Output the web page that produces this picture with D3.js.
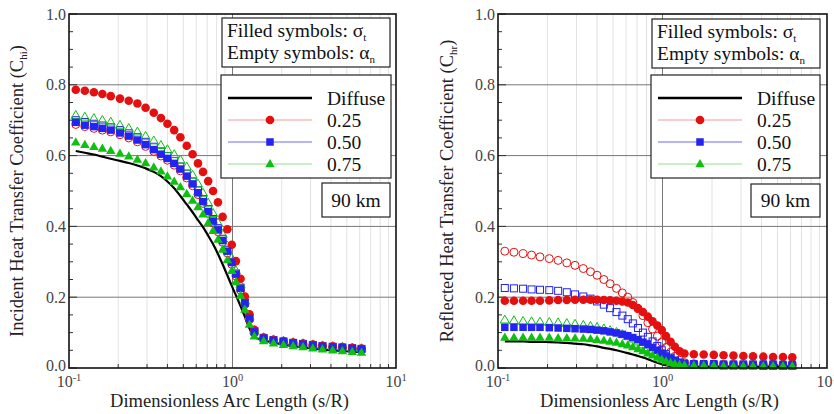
<!DOCTYPE html>
<html>
<head>
<meta charset="utf-8">
<script src="https://cdn.jsdelivr.net/npm/d3@7"></script>
<style>
  body { margin: 0; background: #fff; }
  svg { display: block; font-family: "Liberation Serif", "DejaVu Serif", serif; }
  .tick-label { fill: #444; font-size: 16px; }
  .axis-title { fill: #222; font-size: 18.5px; }
  .leg-text { fill: #111; font-size: 19.5px; }
</style>
</head>
<body>
<div id="chart"></div>
<script>
// arc length positions (s/R) shared by both panels
const sArc = [0.11, 0.125, 0.142, 0.16, 0.18, 0.205, 0.232, 0.262, 0.294, 0.33,
  0.365, 0.40, 0.44, 0.48, 0.525, 0.57, 0.615, 0.66, 0.71, 0.76,
  0.815, 0.87, 0.93, 0.99, 1.05, 1.12, 1.19, 1.27, 1.36, 1.55,
  1.78, 2.05, 2.35, 2.7, 3.1, 3.55, 4.1, 4.7, 5.4, 6.15];

// incident coefficient (left panel)
const incDiffuse = [.613, .608, .603, .597, .591, .585, .579, .572, .564, .554,
  .542, .527, .508, .486, .462, .440, .418, .398, .374, .350,
  .322, .293, .262, .232, .205, .175, .145, .112, .088, .078,
  .072, .066, .062, .058, .055, .052, .050, .048, .046, .045];
const incFilled25 = [.786, .783, .779, .774, .768, .761, .755, .747, .735, .721,
  .706, .690, .672, .652, .628, .604, .578, .554, .528, .500,
  .468, .427, .392, .348, .302, .252, .202, .152, .108, .086,
  .080, .076, .072, .069, .066, .063, .061, .059, .057, .055];
const incFilled50 = [.694, .686, .682, .677, .672, .664, .655, .644, .631, .617,
  .604, .592, .578, .562, .542, .520, .495, .470, .442, .415,
  .390, .360, .330, .298, .265, .225, .183, .140, .102, .084,
  .078, .074, .070, .067, .064, .061, .059, .057, .055, .053];
const incFilled75 = [.638, .631, .625, .620, .614, .606, .598, .589, .579, .567,
  .556, .542, .527, .511, .492, .473, .455, .434, .410, .388,
  .363, .335, .305, .275, .243, .205, .165, .123, .090, .076,
  .070, .066, .062, .059, .056, .053, .050, .048, .046, .044];
const incEmpty25 = [.688, .682, .677, .672, .667, .659, .650, .639, .626, .612,
  .599, .587, .573, .557, .537, .515, .490, .465, .437, .410,
  .385, .355, .325, .293, .260, .220, .180, .137, .100, .083,
  .077, .073, .069, .066, .063, .060, .058, .056, .054, .052];
const incEmpty50 = [.700, .695, .690, .685, .680, .672, .663, .652, .639, .625,
  .612, .599, .585, .569, .549, .527, .502, .477, .449, .421,
  .395, .365, .334, .300, .267, .227, .185, .142, .104, .085,
  .079, .075, .071, .068, .065, .062, .060, .058, .056, .054];
const incEmpty75 = [.714, .709, .705, .700, .695, .686, .677, .667, .655, .642,
  .629, .617, .603, .588, .568, .545, .520, .494, .466, .437,
  .410, .378, .345, .310, .275, .235, .190, .146, .106, .086,
  .080, .076, .072, .069, .066, .063, .061, .059, .057, .055];

// reflected coefficient (right panel)
const refDiffuse = [.075, .075, .075, .074, .074, .073, .072, .071, .069, .067,
  .064, .061, .057, .054, .050, .046, .042, .038, .034, .030,
  .025, .020, .015, .011, .008, .006, .005, .004, .004, .004,
  .004, .004, .004, .004, .004, .004, .004, .004, .004, .004];
const refFilled25 = [.190, .190, .190, .190, .190, .191, .192, .192, .193, .193,
  .193, .193, .192, .191, .190, .188, .185, .178, .169, .158,
  .145, .132, .120, .107, .090, .074, .060, .047, .041, .039,
  .038, .037, .036, .035, .034, .033, .032, .031, .031, .030];
const refFilled50 = [.115, .115, .115, .115, .115, .114, .113, .112, .111, .110,
  .109, .107, .105, .102, .099, .095, .091, .086, .080, .073,
  .066, .058, .050, .042, .034, .027, .021, .016, .013, .012,
  .012, .012, .011, .011, .011, .011, .011, .011, .010, .010];
const refFilled75 = [.086, .086, .086, .086, .086, .086, .085, .085, .084, .083,
  .082, .080, .078, .075, .072, .068, .064, .059, .054, .048,
  .042, .036, .030, .024, .019, .015, .011, .009, .008, .007,
  .007, .007, .006, .006, .006, .006, .006, .006, .006, .006];
const refEmpty25 = [.330, .327, .323, .319, .314, .309, .304, .297, .290, .281,
  .272, .262, .250, .238, .225, .212, .200, .185, .167, .148,
  .128, .110, .090, .073, .058, .045, .033, .022, .015, .012,
  .011, .010, .010, .010, .009, .009, .009, .009, .008, .008];
const refEmpty50 = [.226, .225, .224, .222, .221, .220, .218, .214, .208, .202,
  .196, .188, .179, .169, .158, .148, .138, .126, .113, .100,
  .088, .075, .062, .050, .039, .029, .021, .015, .011, .009,
  .008, .008, .007, .007, .007, .007, .006, .006, .006, .006];
const refEmpty75 = [.136, .134, .132, .131, .130, .129, .128, .126, .124, .121,
  .118, .115, .111, .106, .101, .095, .089, .082, .074, .066,
  .058, .050, .042, .034, .027, .021, .016, .012, .010, .009,
  .009, .009, .008, .008, .008, .008, .008, .007, .007, .007];

const yTicks = [0, 0.2, 0.4, 0.6, 0.8, 1.0];
const xExponents = [-1, 0, 1];
const legendLabels = ["Diffuse", "0.25", "0.50", "0.75"];

const colors = { red: "#e41010", blue: "#2424f0", green: "#10c010" };
const lineColors = { red: "#f29a9a", blue: "#6a6af5", green: "#8ee08e" };

const W = 834, H = 414;
const svg = d3.select("#chart").append("svg").attr("width", W).attr("height", H);

function marker(g, shape, cx, cy, color, filled) {
  const fill = filled ? color : "none";
  const sw = filled ? 0 : 1;
  if (shape === "circle") {
    g.append("circle").attr("cx", cx).attr("cy", cy).attr("r", filled ? 4.3 : 4)
      .attr("fill", fill).attr("stroke", color).attr("stroke-width", sw);
  } else if (shape === "square") {
    const s = filled ? 7.5 : 7;
    g.append("rect").attr("x", cx - s / 2).attr("y", cy - s / 2).attr("width", s).attr("height", s)
      .attr("fill", fill).attr("stroke", color).attr("stroke-width", sw);
  } else {
    const r = filled ? 5 : 4.8;
    const pts = [[cx, cy - r], [cx + r * 0.95, cy + r * 0.65], [cx - r * 0.95, cy + r * 0.65]];
    g.append("polygon").attr("points", pts.map(p => p.join(",")).join(" "))
      .attr("fill", fill).attr("stroke", color).attr("stroke-width", sw);
  }
}

function drawPanel(p) {
  const x = d3.scaleLog().domain([0.1, 10]).range([p.x0, p.x1]);
  const y = d3.scaleLinear().domain([0, 1]).range([p.y1, p.y0]);
  const g = svg.append("g");

  // minor log grid
  const minors = [];
  [0.1, 1].forEach(dec => { for (let k = 2; k <= 9; k++) minors.push(dec * k); });
  g.selectAll(".minor").data(minors).enter().append("line")
    .attr("x1", d => x(d)).attr("x2", d => x(d))
    .attr("y1", p.y0).attr("y2", p.y1)
    .attr("stroke", "#e2e2e2").attr("stroke-width", 1);

  // major grid
  g.selectAll(".hgrid").data(yTicks.slice(1, -1)).enter().append("line")
    .attr("x1", p.x0).attr("x2", p.x1)
    .attr("y1", d => y(d)).attr("y2", d => y(d))
    .attr("stroke", "#777").attr("stroke-width", 1);
  g.append("line").attr("x1", x(1)).attr("x2", x(1)).attr("y1", p.y0).attr("y2", p.y1)
    .attr("stroke", "#777").attr("stroke-width", 1);

  // tick marks
  const yMinor = d3.range(0, 1.0001, 0.05);
  g.selectAll(".ytk").data(yMinor).enter().append("line")
    .attr("x1", p.x0).attr("x2", (d, i) => p.x0 + (i % 4 === 0 ? 8 : 4))
    .attr("y1", d => y(d)).attr("y2", d => y(d))
    .attr("stroke", "#333").attr("stroke-width", 1);
  g.selectAll(".xtk").data(minors).enter().append("line")
    .attr("x1", d => x(d)).attr("x2", d => x(d))
    .attr("y1", p.y1).attr("y2", p.y1 - 4)
    .attr("stroke", "#333").attr("stroke-width", 1);

  // diffuse line
  const line = d3.line().x((d, i) => x(sArc[i])).y(d => y(d)).curve(d3.curveMonotoneX);
  g.append("path").attr("d", line(p.diffuse))
    .attr("fill", "none").attr("stroke", "#000").attr("stroke-width", 2.2);

  // symbols
  p.series.forEach(s => {
    const sg = g.append("g");
    s.values.forEach((v, i) => marker(sg, s.shape, x(sArc[i]), y(v), colors[s.color], s.filled));
  });

  // frame
  g.append("rect").attr("x", p.x0).attr("y", p.y0)
    .attr("width", p.x1 - p.x0).attr("height", p.y1 - p.y0)
    .attr("fill", "none").attr("stroke", "#111").attr("stroke-width", 1.6);

  // y tick labels
  g.selectAll(".ylab").data(yTicks).enter().append("text")
    .attr("class", "tick-label")
    .attr("x", p.x0 - 3).attr("y", d => y(d)).attr("dy", d => d === 0 ? "0.2em" : "0.35em")
    .attr("text-anchor", "end")
    .text(d3.format(".1f"));

  // x tick labels 10^n
  xExponents.forEach(e => {
    const t = g.append("text").attr("class", "tick-label")
      .attr("x", x(Math.pow(10, e))).attr("y", p.y1 + 19).attr("text-anchor", "middle");
    t.append("tspan").text("10");
    t.append("tspan").attr("dy", -6).attr("font-size", 10.5).text(e);
  });

  // axis titles
  g.append("text").attr("class", "axis-title")
    .attr("x", (p.x0 + p.x1) / 2 - 3).attr("y", p.y1 + 39).attr("text-anchor", "middle")
    .text("Dimensionless Arc Length (s/R)");
  const yt = g.append("text").attr("class", "axis-title")
    .attr("transform", `translate(${p.yTitleX},${(p.y0 + p.y1) / 2}) rotate(-90)`)
    .attr("text-anchor", "middle");
  yt.append("tspan").text(p.yTitle + " (C");
  yt.append("tspan").attr("font-size", 11).attr("dy", 4).text(p.sub);
  yt.append("tspan").attr("dy", -4).text(")");

  // legend box 1
  const b1 = p.box1;
  g.append("rect").attr("x", b1[0]).attr("y", b1[1]).attr("width", b1[2]).attr("height", b1[3])
    .attr("fill", "#fff").attr("stroke", "#222").attr("stroke-width", 1.2);
  const t1 = g.append("text").attr("class", "leg-text").attr("x", b1[0] + 5).attr("y", b1[1] + 19);
  t1.append("tspan").text("Filled symbols: σ");
  t1.append("tspan").attr("font-size", 11).attr("dy", 4).text("t");
  const t2 = g.append("text").attr("class", "leg-text").attr("x", b1[0] + 5).attr("y", b1[1] + 41);
  t2.append("tspan").text("Empty symbols: α");
  t2.append("tspan").attr("font-size", 11).attr("dy", 4).text("n");

  // legend box 2
  const b2 = p.box2;
  g.append("rect").attr("x", b2[0]).attr("y", b2[1]).attr("width", b2[2]).attr("height", b2[3])
    .attr("fill", "#fff").attr("stroke", "#222").attr("stroke-width", 1.2);
  const legItems = [
    { label: legendLabels[0], color: null },
    { label: legendLabels[1], color: "red", shape: "circle" },
    { label: legendLabels[2], color: "blue", shape: "square" },
    { label: legendLabels[3], color: "green", shape: "triangle" }
  ];
  legItems.forEach((it, i) => {
    const ly = b2[1] + 23 + i * 22;
    const lx0 = b2[0] + 7, lx1 = b2[0] + 91;
    g.append("line").attr("x1", lx0).attr("x2", lx1).attr("y1", ly).attr("y2", ly)
      .attr("stroke", it.color ? lineColors[it.color] : "#000")
      .attr("stroke-width", it.color ? 1 : 2.6);
    if (it.color) marker(g, it.shape, (lx0 + lx1) / 2, ly, colors[it.color], true);
    g.append("text").attr("class", "leg-text").attr("x", b2[0] + 106).attr("y", ly).attr("dy", "0.35em")
      .text(it.label);
  });

  // legend box 3
  const b3 = p.box3;
  g.append("rect").attr("x", b3[0]).attr("y", b3[1]).attr("width", b3[2]).attr("height", b3[3])
    .attr("fill", "#fff").attr("stroke", "#222").attr("stroke-width", 1.2);
  g.append("text").attr("class", "leg-text").attr("x", b3[0] + b3[2] / 2).attr("y", b3[1] + b3[3] / 2)
    .attr("dy", "0.35em").attr("text-anchor", "middle").text("90 km");
}

drawPanel({
  x0: 69, x1: 396, y0: 14, y1: 368, yTitleX: 23,
  yTitle: "Incident Heat Transfer Coefficient", sub: "hi",
  box1: [222, 18, 168, 49], box2: [221, 75, 170, 103], box3: [322, 183, 68, 34],
  diffuse: incDiffuse,
  series: [
    { values: incEmpty25, color: "red", shape: "circle", filled: false },
    { values: incEmpty50, color: "blue", shape: "square", filled: false },
    { values: incEmpty75, color: "green", shape: "triangle", filled: false },
    { values: incFilled25, color: "red", shape: "circle", filled: true },
    { values: incFilled50, color: "blue", shape: "square", filled: true },
    { values: incFilled75, color: "green", shape: "triangle", filled: true }
  ]
});

drawPanel({
  x0: 498, x1: 827, y0: 14, y1: 368, yTitleX: 453,
  yTitle: "Reflected Heat Transfer Coefficient", sub: "hr",
  box1: [652, 19, 168, 49], box2: [651, 75, 169, 103], box3: [751, 184, 69, 33],
  diffuse: refDiffuse,
  series: [
    { values: refEmpty25, color: "red", shape: "circle", filled: false },
    { values: refEmpty50, color: "blue", shape: "square", filled: false },
    { values: refEmpty75, color: "green", shape: "triangle", filled: false },
    { values: refFilled25, color: "red", shape: "circle", filled: true },
    { values: refFilled50, color: "blue", shape: "square", filled: true },
    { values: refFilled75, color: "green", shape: "triangle", filled: true }
  ]
});
</script>
</body>
</html>
